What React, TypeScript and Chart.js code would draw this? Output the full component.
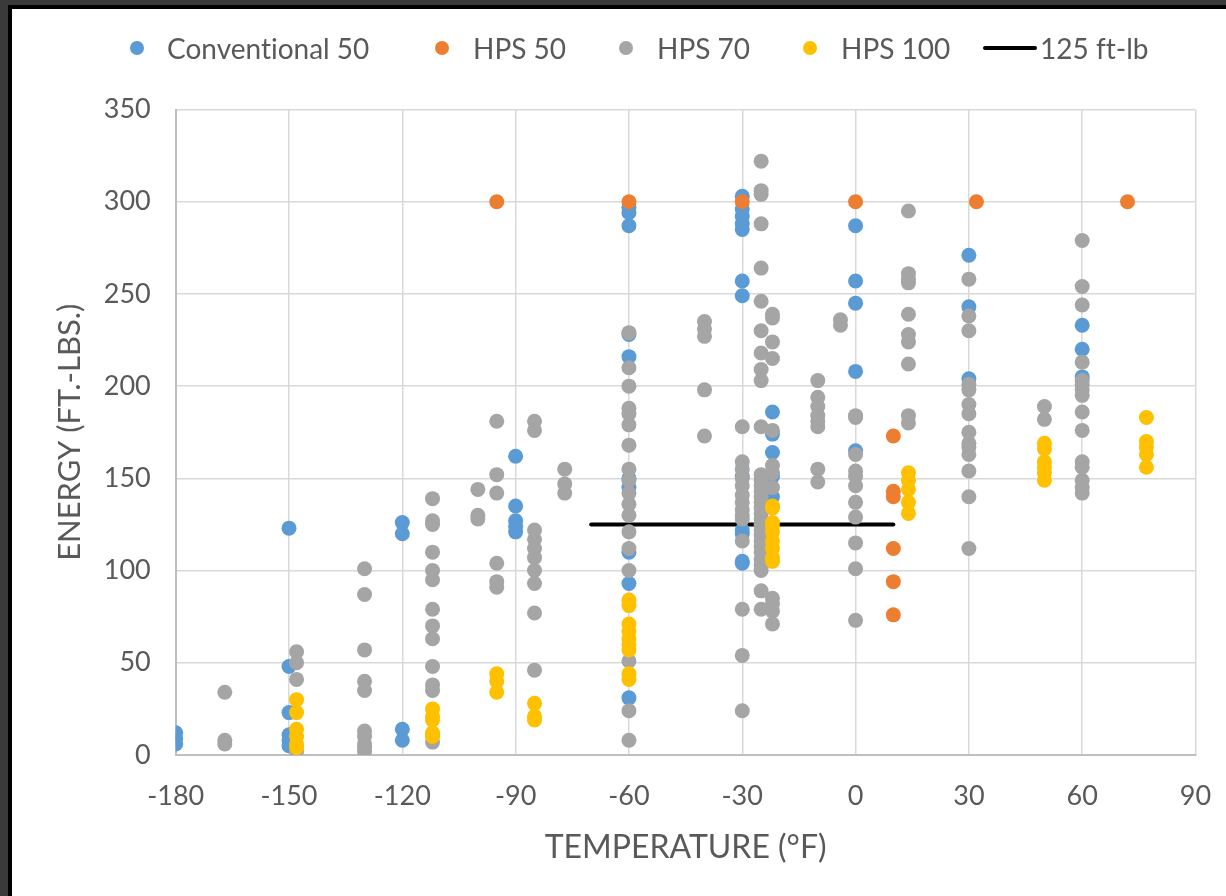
import React, { useEffect, useRef } from 'react';
import { Chart, registerables } from 'chart.js';

Chart.register(...registerables);

// ---- data (temperature °F -> energies ft-lbs) ----
const conventional50: [number, number[]][] = [
  [-180, [12, 9, 6]],
  [-150, [123, 48, 23, 11, 8, 5]],
  [-120, [126, 120, 14, 8]],
  [-90, [162, 135, 127, 124, 121]],
  [-60, [297, 294, 287, 228, 216, 150, 145, 110, 93, 31]],
  [-30, [303, 296, 292, 288, 285, 257, 249, 151, 122, 120, 105, 104]],
  [-22, [186, 174, 164, 151, 140]],
  [0, [287, 257, 245, 208, 165]],
  [30, [271, 243, 204]],
  [60, [233, 220, 205]],
];

const hps50: [number, number[]][] = [
  [-95, [300]],
  [-60, [300]],
  [-30, [300]],
  [0, [300]],
  [10, [173, 143, 140, 112, 94, 76]],
  [32, [300]],
  [72, [300]],
];

const hps70: [number, number[]][] = [
  [-167, [34, 8, 6]],
  [-148, [56, 50, 41, 2]],
  [-130, [101, 87, 57, 40, 35, 13, 10, 6, 4, 2]],
  [-112, [139, 127, 125, 110, 100, 95, 79, 70, 63, 48, 38, 35, 11, 7]],
  [-100, [144, 130, 128]],
  [-95, [181, 152, 142, 104, 94, 91]],
  [-85, [181, 176, 122, 117, 112, 107, 100, 93, 77, 46]],
  [-77, [155, 147, 142]],
  [-60, [229, 210, 200, 188, 185, 179, 168, 155, 149, 142, 136, 130, 121, 112, 100, 51, 24, 8]],
  [-40, [235, 231, 227, 198, 173]],
  [-30, [178, 159, 155, 150, 146, 141, 137, 133, 130, 128, 116, 79, 54, 24]],
  [-25, [322, 306, 304, 288, 264, 246, 230, 218, 209, 203, 178, 152, 149, 146, 143, 140, 137, 134, 131, 128, 125, 122, 119, 116, 113, 110, 106, 103, 100, 89, 79]],
  [-22, [239, 237, 224, 215, 176, 157, 153, 145, 85, 82, 78, 71]],
  [-10, [203, 194, 189, 184, 181, 178, 155, 148]],
  [-4, [236, 233]],
  [0, [184, 183, 163, 154, 151, 146, 137, 129, 115, 101, 73]],
  [14, [295, 261, 258, 256, 239, 228, 224, 212, 184, 180]],
  [30, [258, 238, 230, 201, 198, 190, 185, 175, 169, 167, 163, 154, 140, 112]],
  [50, [189, 182]],
  [60, [279, 254, 244, 213, 203, 201, 198, 195, 186, 176, 159, 156, 149, 145, 142]],
];

const hps100: [number, number[]][] = [
  [-148, [30, 23, 14, 10, 6, 4]],
  [-112, [25, 21, 19, 12, 10]],
  [-95, [44, 40, 34]],
  [-85, [28, 21, 19]],
  [-60, [84, 81, 71, 67, 63, 60, 57, 44, 41]],
  [-22, [135, 134, 126, 124, 121, 116, 112, 107, 105]],
  [14, [153, 149, 144, 137, 131]],
  [50, [169, 166, 159, 156, 153, 149]],
  [77, [183, 170, 167, 163, 156]],
];

const requirementTemps = [-70, 10];
const requirementEnergy = 125;

const xTickValues = [-180, -150, -120, -90, -60, -30, 0, 30, 60, 90];
const yTickValues = [0, 50, 100, 150, 200, 250, 300, 350];

const seriesNames = ['Conventional 50', 'HPS 50', 'HPS 70', 'HPS 100', '125 ft-lb'];
const seriesColors = ['#5B9BD5', '#ED7D31', '#A5A5A5', '#FFC000', '#000000'];

const FONT = 'Lato, "Open Sans", sans-serif';
const TEXT = '#595959';

function flatten(groups: [number, number[]][]) {
  const pts: { x: number; y: number }[] = [];
  groups.forEach(([t, vals]) => vals.forEach((v) => pts.push({ x: t, y: v })));
  return pts;
}

export default function App() {
  const ref = useRef<HTMLCanvasElement>(null);

  useEffect(() => {
    const pointSets = [conventional50, hps50, hps70, hps100];
    const datasets: any[] = pointSets.map((g, i) => ({
      label: seriesNames[i],
      data: flatten(g),
      backgroundColor: seriesColors[i],
      borderColor: seriesColors[i],
      borderWidth: 0,
      pointRadius: 7.5,
      order: 5 - i,
    }));
    datasets.push({
      label: seriesNames[4],
      data: requirementTemps.map((t) => ({ x: t, y: requirementEnergy })),
      showLine: true,
      borderColor: seriesColors[4],
      borderWidth: 4,
      borderCapStyle: 'round',
      pointRadius: 0,
      order: 10,
    });

    const chart = new Chart(ref.current!, {
      type: 'scatter',
      data: { datasets },
      options: {
        responsive: false,
        animation: false,
        devicePixelRatio: 1,
        layout: { padding: { left: 0, top: 100.5, right: 30.5, bottom: 0 } },
        plugins: { legend: { display: false }, tooltip: { enabled: false } },
        scales: {
          x: {
            type: 'linear',
            min: xTickValues[0],
            max: xTickValues[xTickValues.length - 1],
            afterBuildTicks: (s: any) => {
              s.ticks = xTickValues.map((v) => ({ value: v }));
            },
            afterFit: (s: any) => {
              s.height = 141;
            },
            ticks: { color: TEXT, font: { family: FONT, size: 27 }, padding: 0 },
            grid: { color: '#D9D9D9', lineWidth: 1.5, drawTicks: true, tickLength: 25, tickColor: 'rgba(0,0,0,0)' },
            border: { color: '#BFBFBF', width: 2 },
            title: {
              display: true,
              text: 'TEMPERATURE (°F)',
              color: TEXT,
              font: { family: FONT, size: 32 },
              padding: { top: 0, bottom: 28.8 },
            },
          },
          y: {
            type: 'linear',
            min: yTickValues[0],
            max: yTickValues[yTickValues.length - 1],
            afterBuildTicks: (s: any) => {
              s.ticks = yTickValues.map((v) => ({ value: v }));
            },
            afterFit: (s: any) => {
              s.width = 163.7;
            },
            ticks: { color: TEXT, font: { family: FONT, size: 27 }, padding: 25 },
            grid: { color: '#D9D9D9', lineWidth: 1.5, drawTicks: false },
            border: { color: '#BFBFBF', width: 2 },
            title: {
              display: true,
              text: 'ENERGY (FT.-LBS.)',
              color: TEXT,
              font: { family: FONT, size: 31 },
              padding: { top: 39.4, bottom: 0 },
            },
          },
        },
      },
    });
    return () => chart.destroy();
  }, []);

  const legendLeft = [130, 435, 619, 803, 983];
  const textLeft = [167, 473, 657, 841, 1040];

  return (
    <div style={{ position: 'fixed', left: 0, top: 0, width: 1226, height: 896, background: '#3A3A3A', overflow: 'hidden' }}>
      <div
        style={{
          position: 'absolute',
          left: 8,
          top: 5,
          right: 0,
          bottom: 0,
          borderLeft: '4px solid #000',
          borderTop: '4px solid #000',
          background: '#fff',
        }}
      >
        <canvas ref={ref} width={1214} height={887} style={{ position: 'absolute', left: 0, top: 0, width: 1214, height: 887, display: 'block' }} />
        {seriesNames.map((name, i) => (
          <div key={name}>
            <div
              style={{
                position: 'absolute',
                left: legendLeft[i] - 12,
                top: 48 - 9 - (i === 4 ? 2 : 7),
                width: i === 4 ? 54 : 14,
                height: i === 4 ? 4 : 14,
                borderRadius: i === 4 ? 2 : 7,
                background: seriesColors[i],
              }}
            />
            <div
              style={{
                position: 'absolute',
                left: textLeft[i] - 12,
                top: 48 - 9 - 17,
                height: 34,
                lineHeight: '34px',
                fontFamily: FONT,
                fontSize: 28,
                fontVariantLigatures: 'none',
                color: TEXT,
                whiteSpace: 'nowrap',
              }}
            >
              {name}
            </div>
          </div>
        ))}
      </div>
    </div>
  );
}
